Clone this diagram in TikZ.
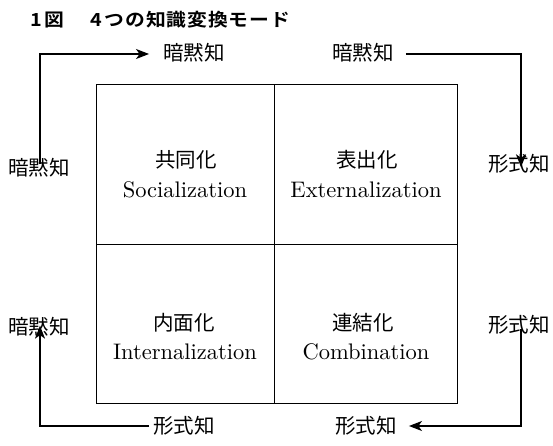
\documentclass[tikz,border=0pt]{standalone}
\usepackage{fontspec}
\newfontfamily\jp{Noto Sans CJK JP}
\newfontfamily\jpb{Noto Sans CJK JP Bold}
\newfontfamily\enf{lmroman10-regular.otf}
\usetikzlibrary{arrows.meta}
\newcommand\tk{\kern0.8pt}
\begin{document}
\begin{tikzpicture}[x=1pt,y=-1pt,
  title/.style={font=\jpb\fontsize{18}{18}\selectfont, inner sep=0pt, anchor=west},
  jl/.style={font=\jp\fontsize{20.5}{20.5}\selectfont, inner sep=0pt},
  en/.style={font=\enf\fontsize{22.5}{22.5}\selectfont, inner sep=0pt},
  arr/.style={line width=1.4pt, -{Stealth[length=13pt,width=10pt,inset=3.5pt]}},
  frame/.style={line width=1pt}]
\useasboundingbox (0,0) rectangle (553,446);
% title
\node[title] (ttl) at (30,20) {\scalebox{1.1}[1]{1\kern2pt 図\kern24pt 4\kern2.5pt つ\tk の\tk 知\tk 識\tk 変\tk 換\tk モ\tk ー\tk ド}};
% grid
\draw[frame] (96,85) rectangle (457,403);
\draw[frame] (274,85) -- (274,403);
\draw[frame] (96,244) -- (457,244);
% cell texts
\node[jl] (c1j) at (186,160) {共同化};
\node[en] (c1e) at (185,190) {Socialization};
\node[jl] (c2j) at (367,160) {表出化};
\node[en] (c2e) at (366,190) {Externalization};
\node[jl] (c3j) at (184,323) {内面化};
\node[en] (c3e) at (185,352) {Internalization};
\node[jl] (c4j) at (363,323) {連結化};
\node[en] (c4e) at (366,352) {Combination};
% outer labels
\node[jl] (tl) at (194,53) {暗黙知};
\node[jl] (tr) at (363,53) {暗黙知};
\node[jl] (l1) at (39,168) {暗黙知};
\node[jl] (r1) at (519,164) {形式知};
\node[jl] (l2) at (39,327) {暗黙知};
\node[jl] (r2) at (519,325) {形式知};
\node[jl] (b1) at (184,426) {形式知};
\node[jl] (b2) at (366,426) {形式知};
% arrows
\coordinate (k1) at (40,54);
\coordinate (k2) at (521,54);
\coordinate (k3) at (521,426);
\coordinate (k4) at (40,426);
\draw[arr] ([yshift=-6pt]l1.north -| k1) -- (k1) -- ([xshift=-14pt]tl.west |- k1);
\draw[arr] ([xshift=12pt]tr.east |- k2) -- (k2) -- ([yshift=-13pt]r1.north -| k2);
\draw[arr] ([yshift=6pt]r2.south -| k3) -- (k3) -- ([xshift=12pt]b2.east |- k3);
\draw[arr] ([xshift=-4pt]b1.west |- k4) -- (k4) -- ([yshift=11pt]l2.south -| k4);
\end{tikzpicture}
\end{document}
